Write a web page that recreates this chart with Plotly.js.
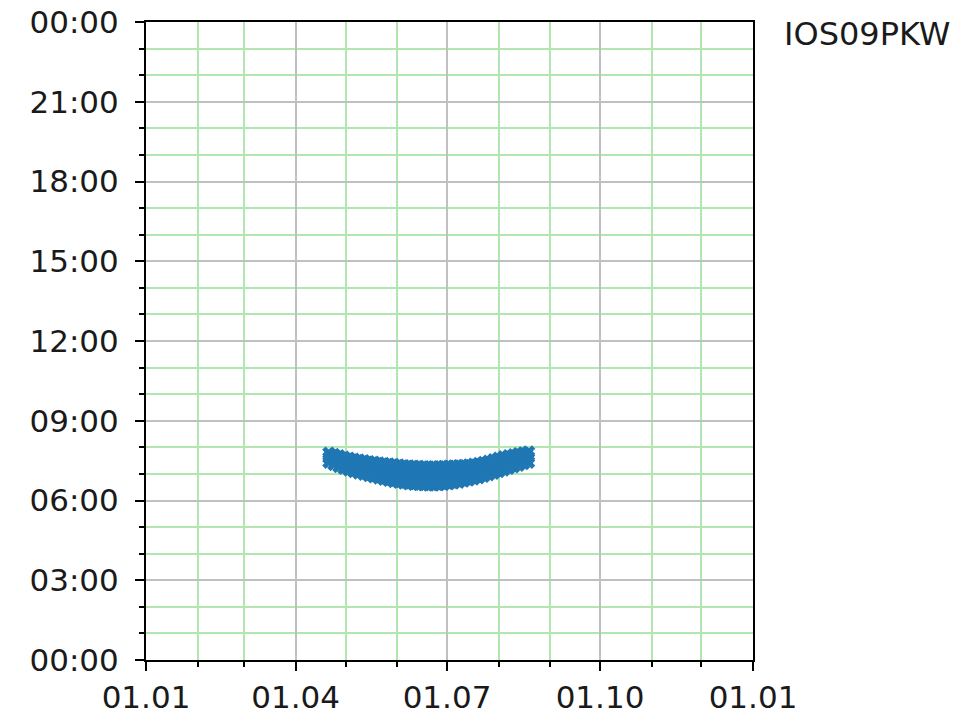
<!DOCTYPE html>
<html>
<head>
<meta charset="utf-8">
<script src="https://cdn.plot.ly/plotly-3.0.1.min.js"></script>
<style>html,body{margin:0;padding:0;background:#fff;}#chart{width:974px;height:722px;}</style>
</head>
<body>
<div id="chart"></div>
<script>
// Observation dates (2023)
const obsDates = ['2023-04-21','2023-04-24','2023-04-27','2023-04-30','2023-05-03','2023-05-06','2023-05-09','2023-05-12','2023-05-15','2023-05-18','2023-05-21','2023-05-24','2023-05-27','2023-05-30','2023-06-02','2023-06-05','2023-06-08','2023-06-11','2023-06-14','2023-06-17','2023-06-20','2023-06-23','2023-06-26','2023-06-29','2023-07-02','2023-07-05','2023-07-08','2023-07-11','2023-07-14','2023-07-17','2023-07-20','2023-07-23','2023-07-26','2023-07-29','2023-08-01','2023-08-04','2023-08-07','2023-08-10','2023-08-13','2023-08-16','2023-08-19'];
// Time of day in hours: latest, middle, earliest points of each date
const lateHours = [7.78,7.73,7.68,7.63,7.59,7.55,7.52,7.49,7.46,7.44,7.41,7.39,7.37,7.35,7.33,7.31,7.30,7.29,7.28,7.27,7.26,7.27,7.27,7.28,7.29,7.30,7.31,7.32,7.33,7.36,7.39,7.43,7.48,7.53,7.59,7.64,7.68,7.72,7.76,7.79,7.82];
const midHours  = [7.61,7.55,7.48,7.42,7.37,7.32,7.28,7.24,7.20,7.17,7.13,7.10,7.07,7.04,7.01,6.99,6.97,6.95,6.94,6.93,6.92,6.93,6.93,6.95,6.96,6.98,7.00,7.03,7.05,7.09,7.13,7.17,7.23,7.28,7.34,7.40,7.45,7.50,7.55,7.59,7.63];
const earlyHours= [7.44,7.36,7.28,7.21,7.15,7.09,7.04,6.99,6.94,6.89,6.85,6.80,6.76,6.72,6.69,6.66,6.63,6.61,6.60,6.59,6.58,6.58,6.59,6.61,6.63,6.66,6.69,6.73,6.77,6.81,6.86,6.91,6.97,7.03,7.09,7.15,7.21,7.27,7.33,7.39,7.44];
// Axis ticks
const yTickVals = [0,3,6,9,12,15,18,21,24];
const yTickText = ['00:00','03:00','06:00','09:00','12:00','15:00','18:00','21:00','00:00'];
const stationLabel = 'IOS09PKW';

const xs = [], ys = [];
[lateHours, midHours, earlyHours].forEach(arr => {
  arr.forEach((v, i) => { xs.push(obsDates[i]); ys.push(v); });
});

const trace = {
  type: 'scatter', mode: 'markers', x: xs, y: ys,
  marker: {symbol: 'x', size: 12, color: '#1f77b4', line: {width: 0}},
  hoverinfo: 'skip'
};

const font = {family: 'DejaVu Sans, sans-serif', size: 31, color: '#1a1a1a'};

const layout = {
  width: 974, height: 722,
  margin: {l: 146, r: 221, t: 22, b: 62, pad: 0},
  paper_bgcolor: '#fff', plot_bgcolor: '#fff',
  showlegend: false,
  font: font,
  xaxis: {
    type: 'date',
    range: ['2023-01-01', '2024-01-01'],
    tick0: '2023-01-01', dtick: 'M3', tickformat: '%d.%m',
    ticks: 'outside', ticklen: 9, tickwidth: 2, tickcolor: '#000',
    ticklabelstandoff: 0,
    showline: true, linecolor: '#000', linewidth: 2, mirror: true,
    showgrid: true, gridcolor: '#c0c0c0', gridwidth: 2,
    zeroline: false,
    tickfont: font,
    minor: {dtick: 'M1', tick0: '2023-01-01', ticks: 'outside', ticklen: 5, tickwidth: 2, tickcolor: '#000',
            showgrid: true, gridcolor: '#b0e6b0', gridwidth: 2}
  },
  yaxis: {
    range: [0, 24],
    tickmode: 'array', tickvals: yTickVals, ticktext: yTickText,
    ticks: 'outside', ticklen: 9, tickwidth: 2, tickcolor: '#000',
    ticklabelstandoff: 10,
    showline: true, linecolor: '#000', linewidth: 2, mirror: true,
    showgrid: true, gridcolor: '#c0c0c0', gridwidth: 2,
    zeroline: false,
    tickfont: font,
    minor: {dtick: 1, tick0: 0, ticks: 'outside', ticklen: 5, tickwidth: 2, tickcolor: '#000',
            showgrid: true, gridcolor: '#b0e6b0', gridwidth: 2}
  },
  annotations: [{
    text: stationLabel, xref: 'paper', yref: 'paper', x: 1.0, y: 1.0,
    xshift: 29, yshift: 9, xanchor: 'left', yanchor: 'top', showarrow: false,
    font: {family: 'DejaVu Sans, sans-serif', size: 32, color: '#1a1a1a'}
  }]
};

Plotly.newPlot('chart', [trace], layout, {staticPlot: true, displayModeBar: false});
</script>
</body>
</html>
